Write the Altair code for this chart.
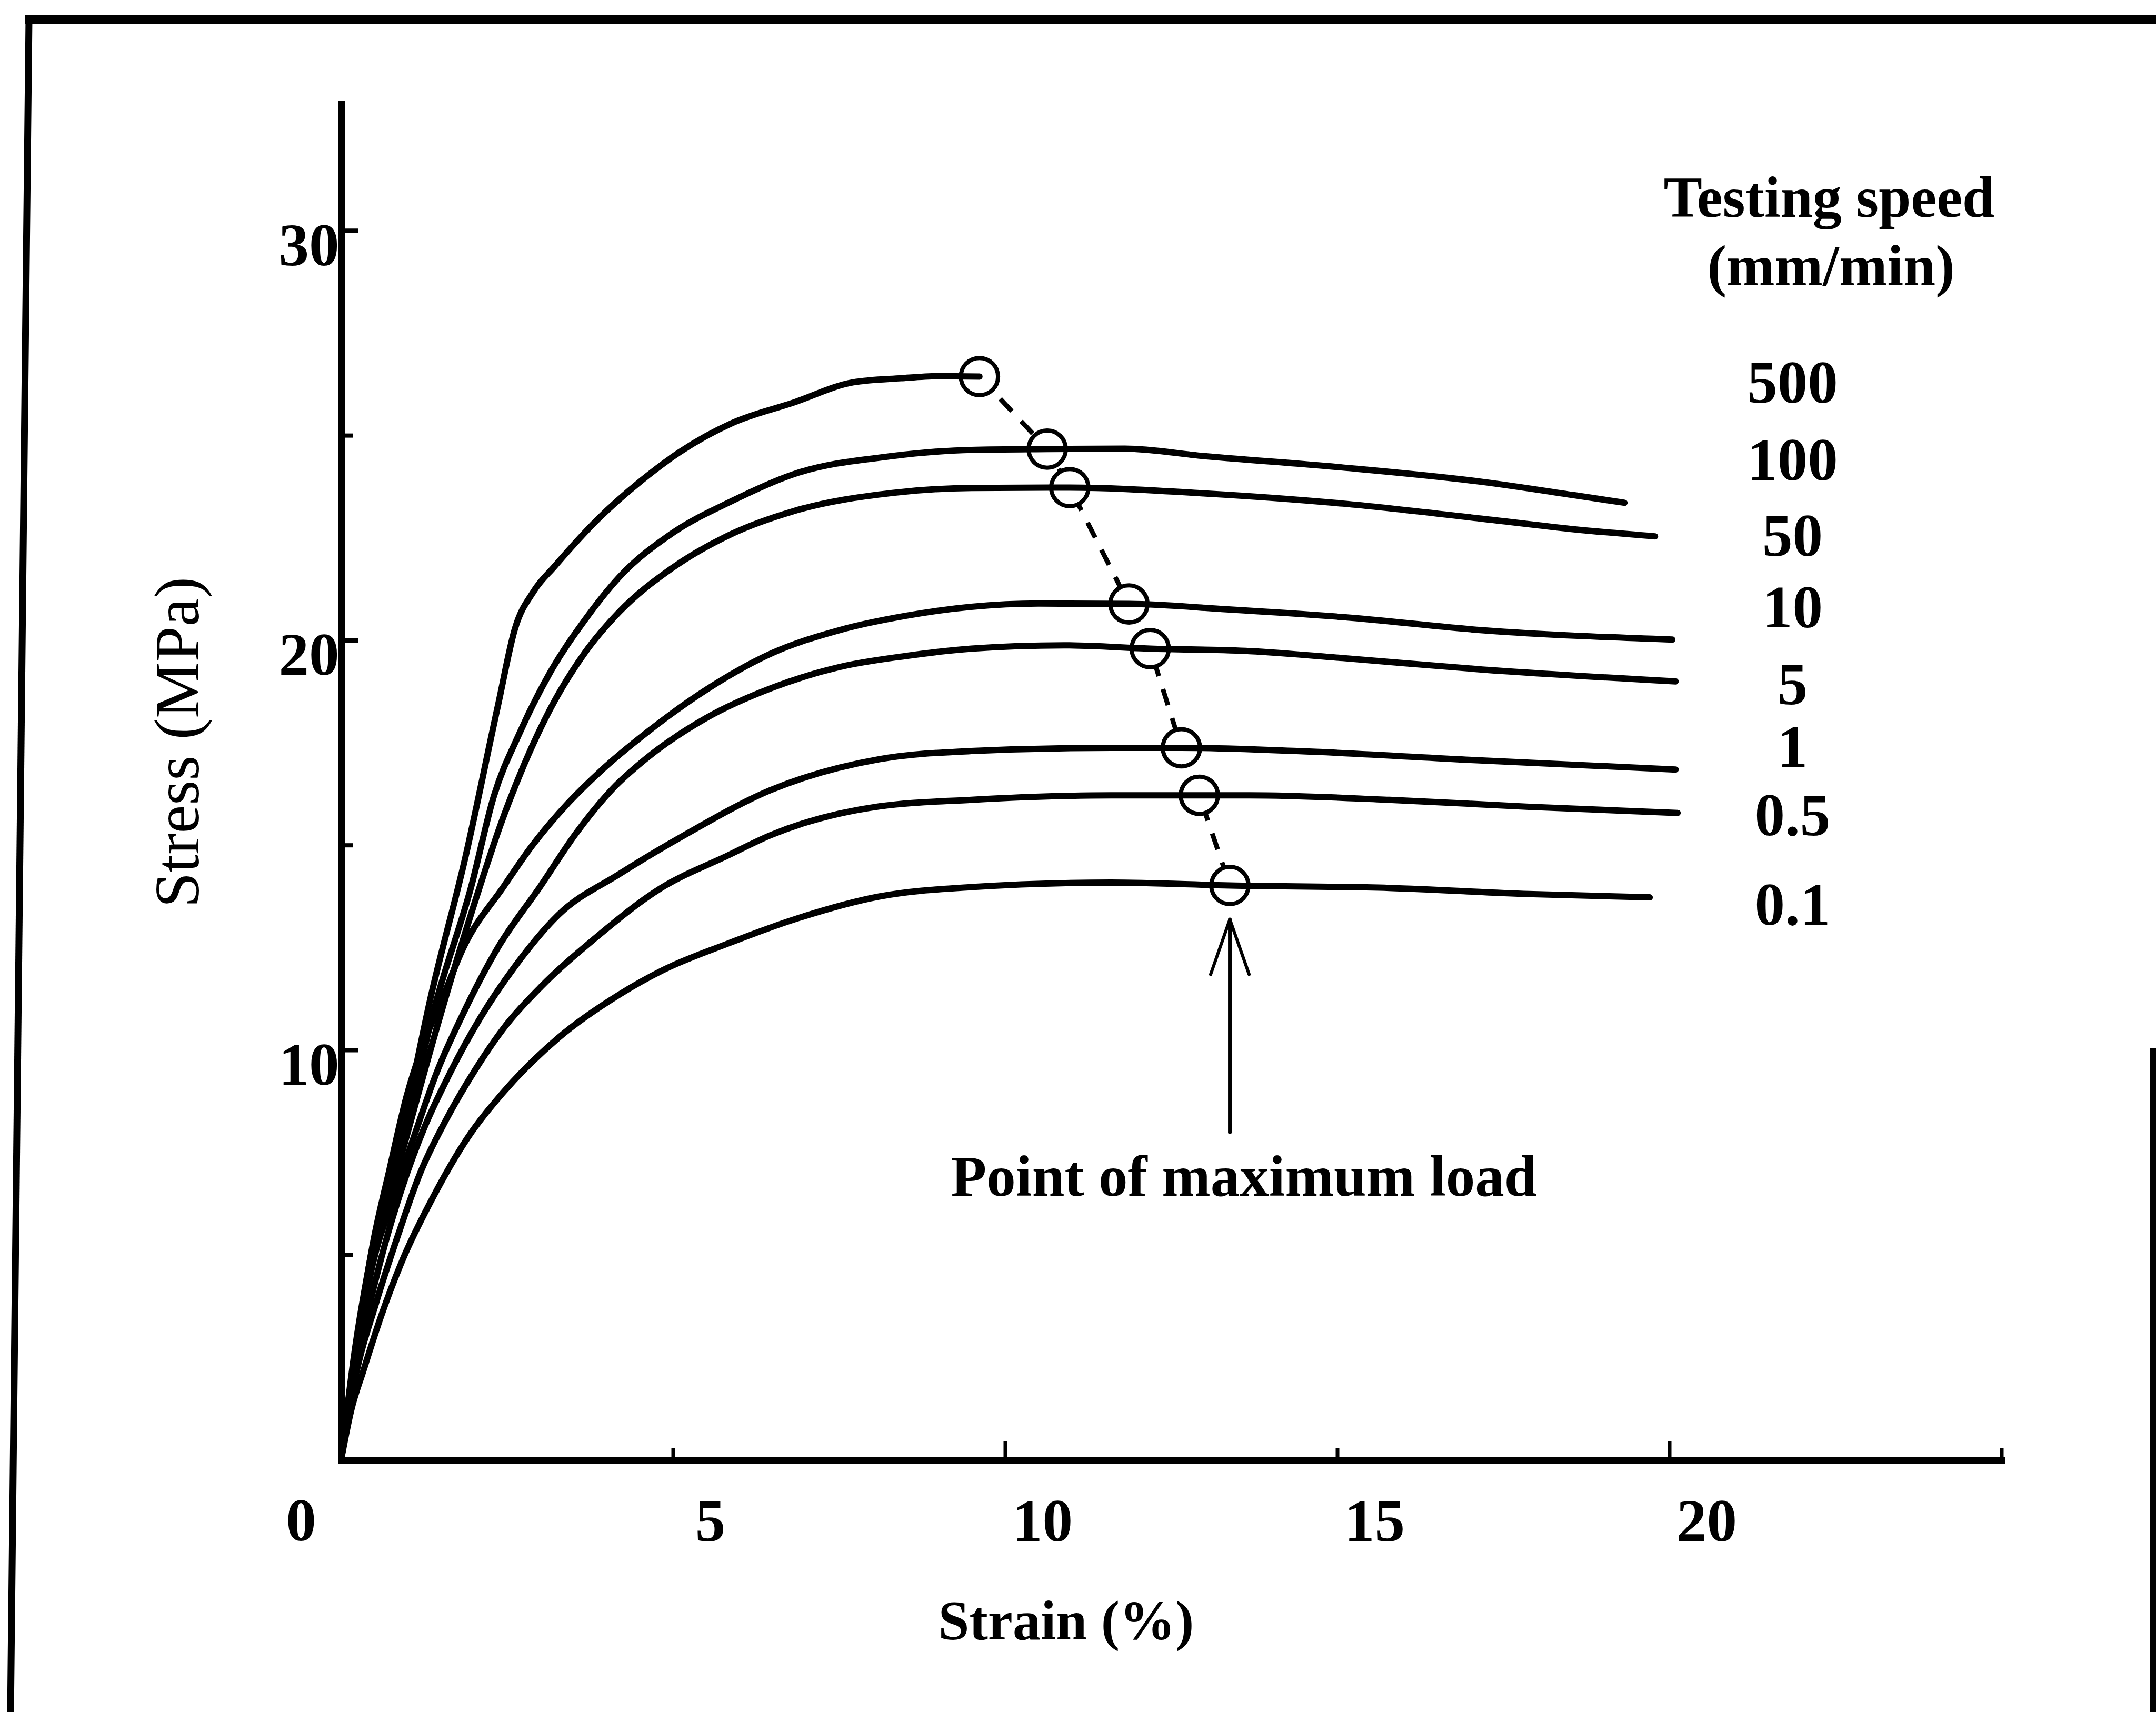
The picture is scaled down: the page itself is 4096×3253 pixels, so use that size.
import altair as alt
import pandas as pd

FONT = "Liberation Serif"

# Testing speeds (mm/min), top curve first
speeds = ["500", "100", "50", "10", "5", "1", "0.5", "0.1"]

# Stress-strain curves: strain (%) and stress (MPa)
strain_500 = [0, 0.2, 0.45, 0.93, 1.35, 1.87, 2.36, 2.62, 2.9, 3.21, 3.86, 4.52, 5.10, 5.88, 6.80, 7.71, 8.43, 9.0, 9.61]
stress_500 = [0, 2.6, 5.0, 8.1, 11.3, 14.7, 18.4, 20.3, 21.2, 21.8, 22.95, 23.9, 24.6, 25.3, 25.8, 26.3, 26.4, 26.45, 26.44]

strain_100 = [0, 0.2, 0.45, 0.95, 1.4, 1.96, 2.30, 2.69, 3.14, 3.67, 4.19, 4.97, 5.88, 6.80, 8.30, 9.49, 10.63, 11.8, 12.98, 15.08, 17.18, 18.58, 19.32]
stress_100 = [0, 2.5, 4.8, 7.9, 11.0, 14.0, 16.2, 17.75, 19.2, 20.5, 21.55, 22.6, 23.4, 24.05, 24.5, 24.65, 24.67, 24.68, 24.5, 24.22, 23.87, 23.54, 23.36]

strain_50 = [0, 0.2, 0.47, 0.97, 1.45, 2.09, 2.40, 2.75, 3.14, 3.67, 4.19, 4.97, 5.88, 6.80, 8.30, 9.49, 10.97, 12.98, 15.08, 17.18, 18.58, 19.78]
stress_50 = [0, 2.5, 4.8, 7.8, 10.6, 14.0, 15.5, 16.95, 18.3, 19.7, 20.7, 21.75, 22.6, 23.15, 23.6, 23.72, 23.73, 23.59, 23.34, 22.97, 22.71, 22.54]

strain_10 = [0, 0.2, 0.47, 0.73, 0.99, 1.25, 1.51, 1.84, 2.45, 2.88, 3.4, 3.9, 4.6, 5.5, 6.5, 7.5, 8.5, 9.49, 10.5, 11.86, 13.33, 15.08, 17.18, 20.04]
stress_10 = [0, 2.4, 5.2, 7.1, 8.9, 10.2, 11.2, 12.5, 14.0, 15.0, 16.0, 16.8, 17.75, 18.8, 19.7, 20.25, 20.6, 20.82, 20.9, 20.89, 20.76, 20.57, 20.25, 20.02]

strain_5 = [0, 0.2, 0.48, 0.79, 1.12, 1.45, 1.84, 2.36, 3.0, 3.54, 4.1, 4.58, 5.49, 6.5, 7.5, 8.5, 9.49, 10.88, 12.18, 13.68, 15.08, 17.18, 20.09]
stress_5 = [0, 2.3, 4.8, 6.4, 8.0, 9.5, 10.9, 12.5, 14.0, 15.3, 16.4, 17.1, 18.1, 18.85, 19.35, 19.62, 19.8, 19.88, 19.80, 19.74, 19.57, 19.29, 19.0]

strain_1 = [0, 0.2, 0.6, 0.93, 1.25, 1.58, 2.10, 2.62, 3.27, 4.19, 5.17, 6.47, 8.10, 9.49, 11.59, 12.65, 14.39, 17.18, 20.09]
stress_1 = [0, 2.0, 4.9, 6.7, 8.1, 9.25, 10.8, 12.05, 13.3, 14.3, 15.25, 16.35, 17.1, 17.3, 17.38, 17.38, 17.3, 17.07, 16.85]

strain_05 = [0, 0.2, 0.53, 0.86, 1.19, 1.58, 2.03, 2.43, 3.01, 3.80, 4.81, 5.82, 6.47, 8.10, 9.49, 11.59, 12.92, 13.68, 15.78, 17.88, 20.12]
stress_05 = [0, 1.9, 3.85, 5.5, 7.0, 8.3, 9.55, 10.5, 11.55, 12.7, 13.95, 14.75, 15.25, 15.95, 16.11, 16.22, 16.22, 16.22, 16.11, 15.94, 15.79]

strain_01 = [0, 0.15, 0.34, 0.60, 0.93, 1.38, 1.90, 2.43, 3.27, 4.19, 4.84, 5.82, 6.80, 8.10, 9.49, 11.59, 13.38, 15.78, 17.88, 19.7]
stress_01 = [0, 1.2, 2.2, 3.5, 4.9, 6.4, 7.85, 8.95, 10.3, 11.36, 11.95, 12.6, 13.18, 13.75, 13.98, 14.09, 14.02, 13.96, 13.81, 13.73]

# Point of maximum load on each curve
max_strain = [9.61, 10.63, 10.97, 11.86, 12.18, 12.65, 12.92, 13.38]
max_stress = [26.44, 24.67, 23.73, 20.89, 19.80, 17.38, 16.22, 14.02]

# Speed labels down the right-hand side (baseline stress)
label_stress = [25.81, 23.91, 22.07, 20.32, 18.45, 16.91, 15.24, 13.06]
header_lines = ["Testing speed", "(mm/min)"]

# Axis ticks
x_ticks_major = [10, 20]
x_ticks_minor = [5, 15, 25]
y_ticks_major = [10, 20, 30]
y_ticks_minor = [5, 15, 25]
x_label_values = [5, 10, 15, 20]
y_label_values = [10, 20, 30]

curve_strain = [strain_500, strain_100, strain_50, strain_10, strain_5, strain_1, strain_05, strain_01]
curve_stress = [stress_500, stress_100, stress_50, stress_10, stress_5, stress_1, stress_05, stress_01]

rows = []
for sp, xs, ys in zip(speeds, curve_strain, curve_stress):
    for i, (xv, yv) in enumerate(zip(xs, ys)):
        rows.append({"speed": sp, "i": i, "strain": xv, "stress": yv})
curves_df = pd.DataFrame(rows)

max_df = pd.DataFrame({"speed": speeds, "i": range(len(speeds)),
                       "strain": max_strain, "stress": max_stress})

W, H = 3155, 2577
X_DOMAIN = [0, 25]
Y_DOMAIN = [0, 33.1]
xs_ = alt.Scale(domain=X_DOMAIN, nice=False, zero=False)
ys_ = alt.Scale(domain=Y_DOMAIN, nice=False, zero=False)

x_axis = alt.Axis(
    values=x_label_values, ticks=False, tickSize=0, grid=False,
    domainColor="black", domainWidth=13, domainCap="square",
    labelFont=FONT, labelFontSize=115, labelFontWeight="bold", labelColor="black",
    labelOffset=70, labelPadding=118, labelBaseline="middle", labelAlign="center",
    labelAngle=0, labelOverlap=False, labelFlush=False,
    title="Strain (%)", titleFont=FONT, titleFontSize=106, titleFontWeight="bold",
    titleColor="black", titleX=1377, titleY=308, titleBaseline="middle",
    titleAlign="center", titleAngle=0,
)
y_axis = alt.Axis(
    values=y_label_values, ticks=False, tickSize=0, grid=False,
    domainColor="black", domainWidth=13, domainCap="square",
    labelFont=FONT, labelFontSize=115, labelFontWeight="bold", labelColor="black",
    labelAlign="right", labelBaseline="middle", labelPadding=4, labelOffset=30,
    labelOverlap=False, labelFlush=False,
    title="Stress (MPa)", titleFont=FONT, titleFontSize=121, titleFontWeight="normal",
    titleColor="black", titleX=-308, titleY=1213, titleAngle=270,
    titleBaseline="middle", titleAlign="center",
)

# Every layer shares the same scales and axis definitions
X = lambda f="strain": alt.X(f"{f}:Q", scale=xs_, axis=x_axis)
Y = lambda f="stress": alt.Y(f"{f}:Q", scale=ys_, axis=y_axis)

# Dashed locus through the maximum-load points
locus = alt.Chart(max_df).mark_line(
    color="black", strokeWidth=9, strokeDash=[32, 26]
).encode(x=X(), y=Y(), order="i:Q")

# White disks keep the dashes out of the rings
disks = alt.Chart(max_df).mark_point(
    shape="circle", filled=True, color="white", size=5000, opacity=1, strokeWidth=0
).encode(x=X(), y=Y())

curves = alt.Chart(curves_df).mark_line(
    color="black", strokeWidth=12, interpolate="monotone",
    strokeCap="round", strokeJoin="round",
).encode(x=X(), y=Y(), detail="speed:N", order="i:Q")

rings = alt.Chart(max_df).mark_point(
    shape="circle", filled=False, color="black", size=5000, opacity=1, strokeWidth=8
).encode(x=X(), y=Y())

# Arrow pointing at the lowest maximum-load point
ax = max_strain[-1]
tip = max_stress[-1] - 0.83
tail = 8.0
head = tip - 1.34
arrow_df = pd.DataFrame({
    "strain": [ax, ax, ax], "stress": [tail, tip, tip],
    "s2": [ax, ax - 0.29, ax + 0.29], "t2": [tip, head, head],
    "w": [7, 6, 6],
})
arrow = alt.Chart(arrow_df).mark_rule(color="black", strokeCap="round").encode(
    x=X(), y=Y(), x2="s2:Q", y2="t2:Q",
    strokeWidth=alt.StrokeWidth("w:Q", scale=None),
)

note = alt.Chart(pd.DataFrame({"strain": [13.59], "stress": [6.45],
                               "t": ["Point of maximum load"]})).mark_text(
    font=FONT, fontSize=111, fontWeight="bold", color="black",
    align="center", baseline="alphabetic",
).encode(x=X(), y=Y(), text="t:N")

speed_df = pd.DataFrame({"strain": [21.85] * len(speeds), "stress": label_stress, "t": speeds})
speed_text = alt.Chart(speed_df).mark_text(
    font=FONT, fontSize=115, fontWeight="bold", color="black",
    align="center", baseline="alphabetic",
).encode(x=X(), y=Y(), text="t:N")

header_df = pd.DataFrame({"strain": [22.4, 22.43], "stress": [30.34, 28.67], "t": header_lines})
header = alt.Chart(header_df).mark_text(
    font=FONT, fontSize=110, fontWeight="bold", color="black",
    align="center", baseline="alphabetic",
).encode(x=X(), y=Y(), text="t:N")

origin_label = alt.Chart(pd.DataFrame({"strain": [0], "stress": [0], "t": ["0"]})).mark_text(
    font=FONT, fontSize=115, fontWeight="bold", color="black",
    align="center", baseline="middle", dx=-76, dy=118,
).encode(x=X(), y=Y(), text="t:N")

# Inward-pointing tick marks
def y_ticks(vals, length):
    return alt.Chart(pd.DataFrame({"stress": vals})).mark_rule(
        color="black", strokeWidth=8).encode(y=Y(), x=alt.value(0), x2=alt.value(length))

def x_ticks(vals, length):
    return alt.Chart(pd.DataFrame({"strain": vals})).mark_rule(
        color="black", strokeWidth=7).encode(x=X(), y=alt.value(H), y2=alt.value(H - length))

# Page frame
one = pd.DataFrame({"k": [0]})
def frame_line(x1, y1, x2, y2, w):
    return alt.Chart(one).mark_rule(color="black", strokeWidth=w, strokeCap="square").encode(
        x=alt.value(x1), y=alt.value(y1), x2=alt.value(x2), y2=alt.value(y2))

frame = [
    frame_line(-593, -160, 3460, -160, 16),
    frame_line(-593, -160, -628, 3060, 13),
    frame_line(3443, 1800, 3443, 3060, 12),
]

chart = alt.layer(
    locus, disks, curves, rings, arrow,
    note, speed_text, header, origin_label,
    y_ticks(y_ticks_major, 33), y_ticks(y_ticks_minor, 22),
    x_ticks(x_ticks_major, 35), x_ticks(x_ticks_minor, 22),
    *frame,
).properties(
    width=W, height=H,
    padding={"left": 648, "top": 197, "right": 293, "bottom": 479},
    autosize=alt.AutoSizeParams(type="none"),
    background="white",
).configure_view(stroke=None)

chart.save("out.html", embed_options={"renderer": "svg", "actions": False})
